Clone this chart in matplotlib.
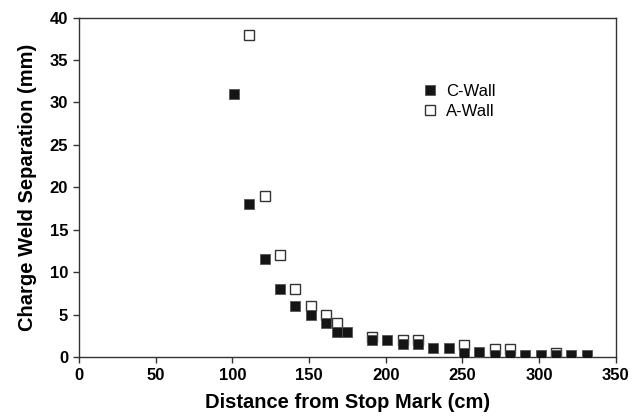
import matplotlib
matplotlib.use('Agg')
from matplotlib import pyplot as plt

# Дані
c_wall_x = [101, 111, 121, 131, 141, 151, 161, 168, 175, 191, 201, 211, 221, 231, 241,
            251, 261, 271, 281, 291, 301, 311, 321, 331]
c_wall_y = [31.0, 18.0, 11.5, 8.0, 6.0, 5.0, 4.0, 3.0, 3.0, 2.0, 2.0, 1.5, 1.5, 1.0, 1.0,
            0.5, 0.6, 0.25, 0.25, 0.25, 0.2, 0.25, 0.25, 0.25]
a_wall_x = [111, 121, 131, 141, 151, 161, 168, 191, 211, 221, 251, 271, 281, 311]
a_wall_y = [38.0, 19.0, 12.0, 8.0, 6.0, 5.0, 4.0, 2.4, 1.95, 1.95, 1.45, 0.9, 0.9, 0.45]

x_ticks = [0, 50, 100, 150, 200, 250, 300, 350]
y_ticks = [0, 5, 10, 15, 20, 25, 30, 35, 40]

plt.rcParams['font.family'] = ['Liberation Sans', 'DejaVu Sans']

fig = plt.figure(figsize=(6.44, 4.18), dpi=100)
ax = fig.add_axes([0.123, 0.146, 0.833, 0.812])

# Відкриті маркери під заповненими
ax.plot(a_wall_x, a_wall_y, linestyle='none', marker='s', markersize=7,
        markerfacecolor='white', markeredgecolor='#333333', markeredgewidth=1.0,
        label='A-Wall', zorder=2)
ax.plot(c_wall_x, c_wall_y, linestyle='none', marker='s', markersize=7,
        markerfacecolor='#151515', markeredgecolor='#555555', markeredgewidth=0.6,
        label='C-Wall', zorder=3)

ax.set_xlim(0, 350)
ax.set_ylim(0, 40)
ax.set_xticks(x_ticks)
ax.set_yticks(y_ticks)
ax.tick_params(direction='out', length=4, width=1, color='#333333', labelsize=12, pad=4)
for lbl in ax.get_xticklabels() + ax.get_yticklabels():
    lbl.set_fontweight('bold')
for s in ax.spines.values():
    s.set_color('#333333')
    s.set_linewidth(1)

ax.set_xlabel('Distance from Stop Mark (cm)', fontsize=14.5, fontweight='bold', labelpad=7)
ax.set_ylabel('Charge Weld Separation (mm)', fontsize=14.5, fontweight='bold', labelpad=9)

# Легенда: C-Wall першою
handles, labels = ax.get_legend_handles_labels()
ax.legend(handles[::-1], labels[::-1], loc='upper left', bbox_to_anchor=(0.611, 0.848),
          frameon=False, fontsize=12, handletextpad=0.45, labelspacing=0.3,
          handlelength=1.0, markerscale=1.0)

fig.savefig('out.png', dpi=100)
